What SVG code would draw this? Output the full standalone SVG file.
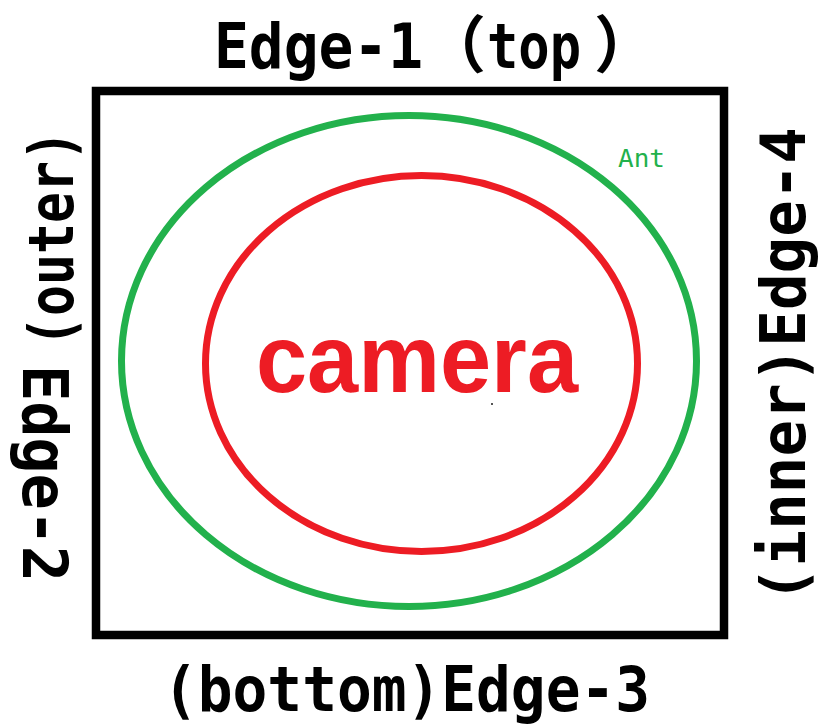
<svg xmlns="http://www.w3.org/2000/svg" width="819" height="725" viewBox="0 0 819 725">
<style>
.lbl{font-family:"DejaVu Sans Mono","Liberation Mono",monospace;font-weight:bold;font-size:62px;fill:#000}
.cjk{font-family:"Noto Sans CJK SC","DejaVu Sans Mono",sans-serif;font-weight:bold}
</style>
<rect width="819" height="725" fill="#fff"/>
<g id="frame">
<rect x="96" y="91" width="628" height="544" fill="none" stroke="#000" stroke-width="8.5"/>
</g>
<g id="ant">
<ellipse cx="409" cy="361" rx="287.5" ry="245.5" fill="none" stroke="#22b14c" stroke-width="7"/>
<text x="618" y="167" font-family="DejaVu Sans Mono,monospace" font-size="24" fill="#22b14c" textLength="47" lengthAdjust="spacingAndGlyphs">Ant</text>
</g>
<g id="camera">
<ellipse cx="421.5" cy="363.5" rx="216" ry="188" fill="none" stroke="#ed1c24" stroke-width="7"/>
<text x="256" y="392" font-family="Liberation Sans,Arial,sans-serif" font-weight="bold" font-size="96" fill="#ed1c24" textLength="322" lengthAdjust="spacingAndGlyphs">camera</text>
<rect x="491" y="403" width="2" height="2" fill="#555"/>
</g>
<g id="edge1">
<text class="lbl" y="68"><tspan x="214" textLength="209" lengthAdjust="spacingAndGlyphs">Edge-1</tspan><tspan class="cjk" x="424">（</tspan><tspan x="487" textLength="94" lengthAdjust="spacingAndGlyphs">top</tspan><tspan class="cjk" x="594">）</tspan></text>
</g>
<g id="edge2">
<text class="lbl" transform="translate(73,347) rotate(-90)" x="0" y="0" textLength="217" lengthAdjust="spacingAndGlyphs">(outer)</text>
<text class="lbl" transform="translate(23,365) rotate(90)" x="0" y="0" textLength="217" lengthAdjust="spacingAndGlyphs">Edge-2</text>
</g>
<g id="edge3">
<text class="lbl" x="163" y="711" textLength="487" lengthAdjust="spacingAndGlyphs">(bottom)Edge-3</text>
</g>
<g id="edge4">
<text class="lbl" transform="translate(805,603) rotate(-90)" x="0" y="0" textLength="476" lengthAdjust="spacingAndGlyphs">(inner)Edge-4</text>
</g>
<g id="connectors"/>
</svg>
